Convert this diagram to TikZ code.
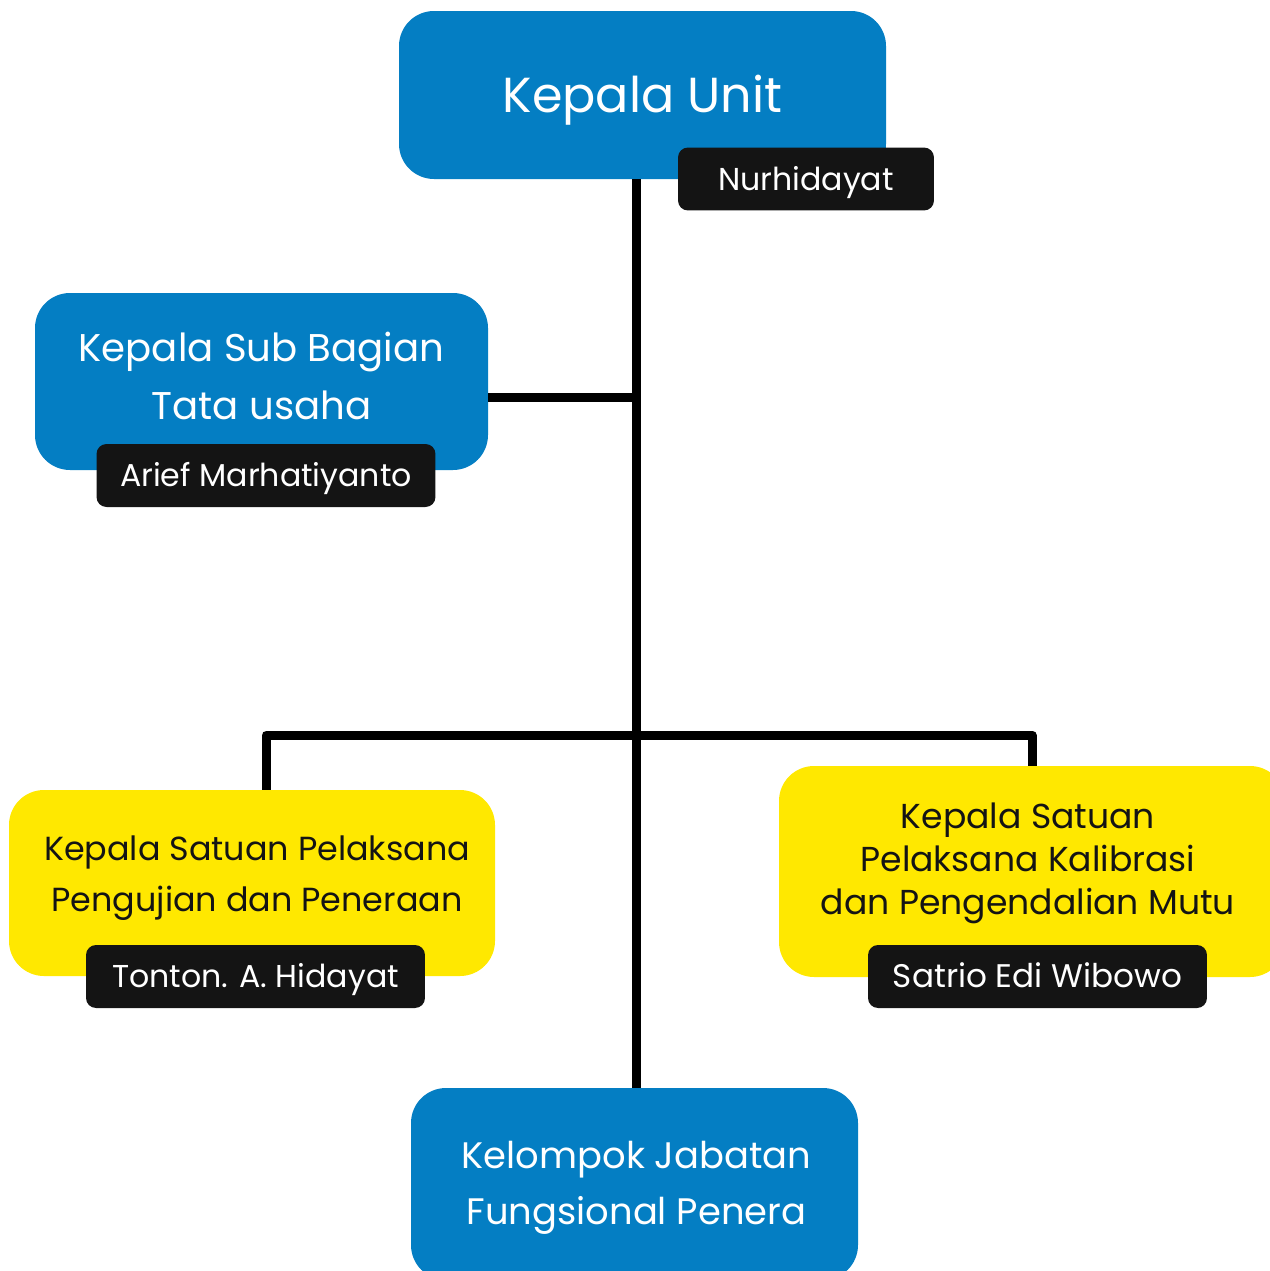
\documentclass[tikz,border=0pt]{standalone}
\usepackage{fontspec}
\setmainfont{Poppins}
\usetikzlibrary{positioning,fit,calc}
\definecolor{unitblue}{HTML}{047EC3}
\definecolor{unityellow}{HTML}{FFE800}
\definecolor{tagblack}{HTML}{141414}
\tikzset{bluebox/.style={fill=unitblue, rounded corners=0.7cm, inner sep=0pt}}
\tikzset{yellowbox/.style={fill=unityellow, rounded corners=0.7cm, inner sep=0pt}}
\tikzset{boxtext/.style={align=center, inner sep=0pt}}
\tikzset{nametag/.style={fill=tagblack, rounded corners=0.2cm, inner sep=0pt, text=white, minimum width=6.78cm, minimum height=1.26cm, text height=13pt, text depth=0pt, font=\fontsize{18}{20}\selectfont}}
\tikzset{conn/.style={line width=0.18cm, line join=round}}

\begin{document}
\begin{tikzpicture}[x=0.02cm, y=-0.02cm]
		\useasboundingbox (0,0) rectangle (1270,1271);
		\clip (0,0) rectangle (1270,1271);

		% KEPALA UNIT
		\node[fit={(399,11) (886,179)}, bluebox] (kepala) {};
		\node[boxtext, text=white, font=\fontsize{28}{32}\selectfont] (kepalaText) at ($(kepala.center)+(0,5)$) {Kepala Unit};
		\node[nametag, minimum width=5.12cm] (tagkepala) at (806,179) {Nurhidayat};

		% SUB BAGIAN
		\node[fit={(35,293) (488,470)}, bluebox] (subbag) {};
		\node[boxtext, text=white, font=\fontsize{22}{33}\selectfont] (subbagText) at ($(subbag.center)+(0,-6)$) {Kepala Sub Bagian\\Tata usaha};
		\node[nametag] (tagsubbag) at (266,475.5) {Arief Marhatiyanto};

		% SATUAN PELAKSANA
		\node[fit={(9,790) (495,976)}, yellowbox] (ksp) {};
		\node[boxtext, text=tagblack, font=\fontsize{19}{29}\selectfont] (kspText) at ($(ksp.center)+(5,-5)$) {Kepala Satuan Pelaksana\\Pengujian dan Peneraan};
		\node[nametag] (tagksp) at (255.5,976.5) {Tonton. A. Hidayat};

		\node[fit={(779,766) (1285,977)}, yellowbox] (ksk) {};
		\node[boxtext, text=tagblack, font=\fontsize{19.7}{24.5}\selectfont] (kskText) at ($(ksk.center)+(-4,-8)$) {Kepala Satuan\\Pelaksana Kalibrasi\\dan Pengendalian Mutu};
		\node[nametag, font=\fontsize{18.6}{20}\selectfont] (tagksk) at (1037.5,976.5) {Satrio Edi Wibowo};

		% JABATAN FUNGSIONAL
		\node[fit={(411,1088) (858,1280)}, bluebox] (kjf) {};
		\node[boxtext, text=white, font=\fontsize{21}{32}\selectfont] (kjfText) at ($(kjf.center)+(2,4)$) {Kelompok Jabatan\\Fungsional Penera};

		% GARIS
		\coordinate (jsub) at (636,397);
		\coordinate (jbus) at (636,735);
		\coordinate (kspdrop) at ($(ksp.north)+(14,0)$);
		\draw[conn] (kepala.south -| jbus) -- (kjf.north -| jbus);
		\draw[conn] (subbag.east |- jsub) -- (jsub);
		\draw[conn] (kspdrop) -- (kspdrop |- jbus) -- (ksk.north |- jbus) -- (ksk.north);

\end{tikzpicture}
\end{document}
